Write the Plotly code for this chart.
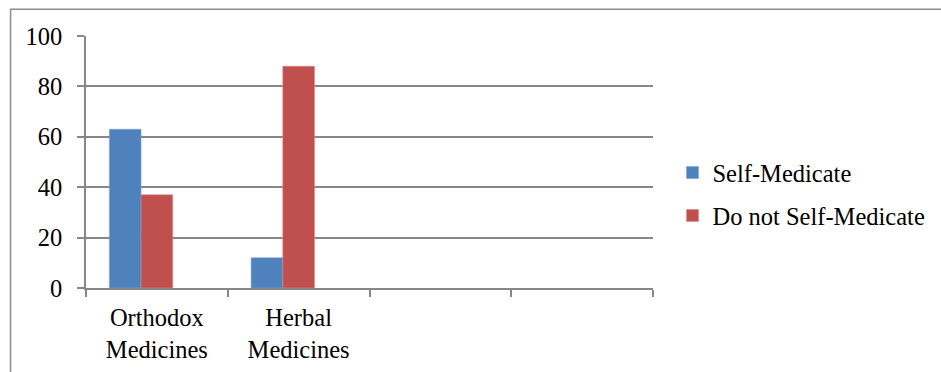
import plotly.graph_objects as go

categories = ["Orthodox<br>Medicines", "Herbal<br>Medicines"]
cat_pos = [0, 1]
self_medicate = [63, 12]
not_self_medicate = [37, 88]
y_ticks = [0, 20, 40, 60, 80, 100]

# pixel geometry of the plot area
W, H = 941, 372
L, R, T, B = 86, 653.5, 35.7, 288
pw, ph = R - L, B - T

def px_x(p):
    return (p - L) / pw

def px_y(p):
    return (B - p) / ph

FONT = "Liberation Serif, Times New Roman, serif"
FS = 24.5
GRID = "#878787"

# Excel layout: 3 series slots per category (third one empty)
BAR_W = 0.2234

fig = go.Figure()
fig.add_trace(go.Bar(x=cat_pos, y=self_medicate, name="Self-Medicate",
                     width=BAR_W, offset=-1.5 * BAR_W,
                     marker=dict(color="#4F81BD", line=dict(color="#7FA3D3", width=0.6)),
                     legendgroup="a"))
fig.add_trace(go.Bar(x=cat_pos, y=not_self_medicate, name="Do not Self-Medicate",
                     width=BAR_W, offset=-0.5 * BAR_W,
                     marker=dict(color="#C0504D", line=dict(color="#D98986", width=0.6)),
                     legendgroup="b"))

fig.update_layout(
    width=W, height=H,
    margin=dict(l=L, r=W - R, t=T, b=H - B, pad=0, autoexpand=False),
    paper_bgcolor="white", plot_bgcolor="white",
    barmode="overlay",
    font=dict(family=FONT, size=FS, color="black"),
    showlegend=True,
    legend=dict(x=px_x(673), y=px_y(150), xanchor="left", yanchor="top",
                font=dict(family=FONT, size=FS, color="black"),
                tracegroupgap=8, bgcolor="rgba(0,0,0,0)"),
    xaxis=dict(range=[-0.5, 3.5], tickmode="array", tickvals=cat_pos, ticktext=categories,
               ticks="", showgrid=False, zeroline=False, automargin=False,
               showline=True, linecolor=GRID, linewidth=1.5,
               minor=dict(tickmode="array", tickvals=[-0.5, 0.5, 1.5, 2.5, 3.5],
                          ticks="outside", ticklen=7, tickcolor=GRID, tickwidth=1.5, showgrid=False),
               ticklabelstandoff=7,
               tickfont=dict(family=FONT, size=FS, color="black")),
    yaxis=dict(range=[0, 100], tickmode="array", tickvals=y_ticks,
               ticks="outside", ticklen=7, tickcolor=GRID, tickwidth=1.5,
               showgrid=True, gridcolor=GRID, gridwidth=1.5, zeroline=False, automargin=False,
               showline=True, linecolor=GRID, linewidth=1.5,
               ticklabelstandoff=10,
               tickfont=dict(family=FONT, size=FS, color="black")),
    shapes=[dict(type="rect", xref="paper", yref="paper",
                 x0=px_x(10.5), x1=px_x(960), y0=px_y(9), y1=px_y(400),
                 line=dict(color="#8C8C8C", width=1.5), layer="below")],
)

fig.write_html("out.html")
